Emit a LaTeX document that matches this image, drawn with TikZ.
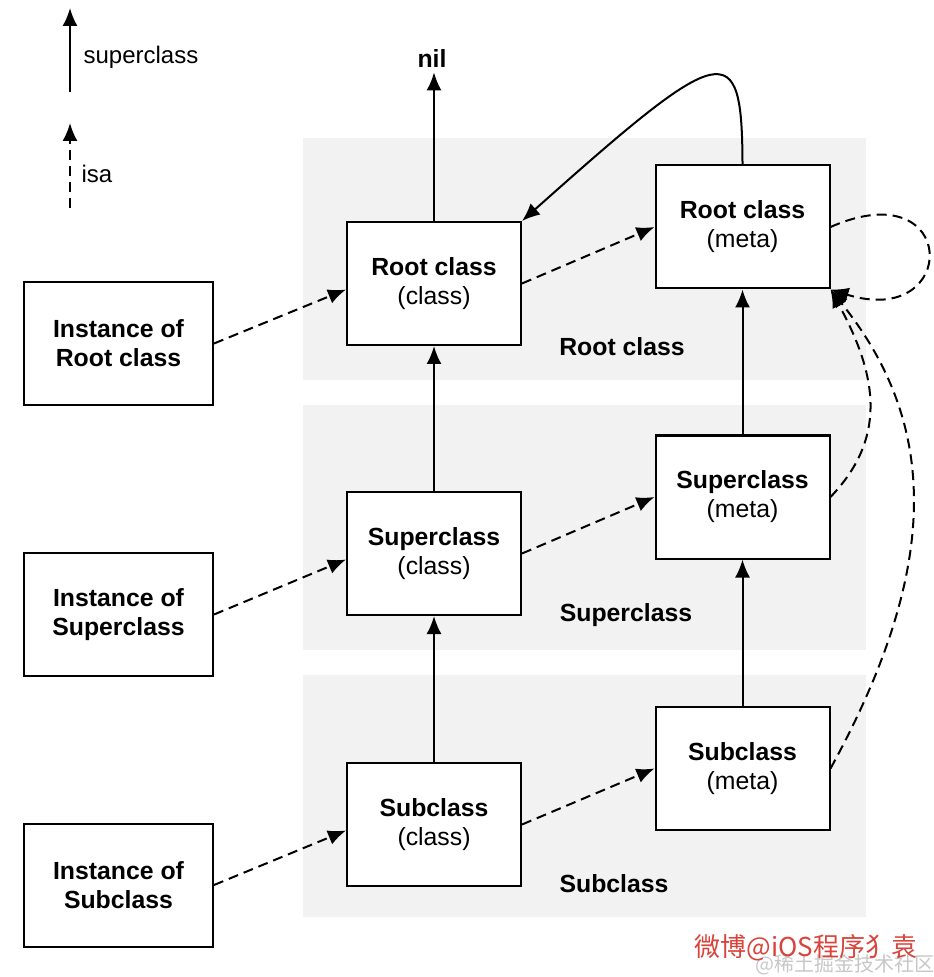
\documentclass[tikz,border=0pt]{standalone}
\usepackage{fontspec}
\setmainfont{Liberation Sans}
\newfontfamily\cjkfont{Noto Sans CJK SC}
\usepackage{xcolor}
\usetikzlibrary{arrows.meta}
\definecolor{panelgray}{RGB}{242,242,242}
\definecolor{wmred}{RGB}{217,67,58}

\begin{document}
\begin{tikzpicture}[x=0.5pt, y=-0.5pt,
        classbox/.style={draw, line width=1pt, fill=white, minimum width=87pt, minimum height=61.5pt,
            align=center, font=\fontsize{12.4}{14.5}\selectfont},
        instbox/.style={classbox, minimum width=94.5pt},
        super/.style={-{Latex[length=9pt, width=7.5pt]}, line width=1pt},
        isa/.style={super, dash pattern=on 5pt off 3pt},
        tag/.style={font=\fontsize{12.4}{14.5}\selectfont\bfseries},
        legend/.style={font=\fontsize{12}{14}\selectfont}]
        \useasboundingbox (0,0) rectangle (933,977);

        % Draw the gray panels
        \fill[panelgray] (303,138) rectangle (866,380);
        \fill[panelgray] (303,405) rectangle (866,650);
        \fill[panelgray] (303,675) rectangle (866,917);

        % Label the panels
        \node[tag] (roottag) at (622,347) {Root class};
        \node[tag] (supertag) at (626,615) {Superclass};
        \node[tag] (subtag) at (614,884) {Subclass};

        % Define the legend points
        \coordinate (sup0) at (70,92);
        \coordinate (sup1) at (70,8);
        \coordinate (isa0) at (70,208);
        \coordinate (isa1) at (70,123);

        % Draw the legend
        \draw[super] (sup0) -- (sup1);
        \draw[isa] (isa0) -- (isa1);
        \node[legend] (suplabel) at (141,57) {superclass};
        \node[legend] (isalabel) at (97,174) {isa};

        % Place the instances
        \node[instbox] (irc) at (118.5,343.5) {\textbf{Instance of}\\\textbf{Root class}};
        \node[instbox] (isc) at (118.5,614.5) {\textbf{Instance of}\\\textbf{Superclass}};
        \node[instbox] (isub) at (118.5,885) {\textbf{Instance of}\\\textbf{Subclass}};

        % Place the classes
        \node[classbox] (rcc) at (434,283.5) {\textbf{Root class}\\(class)};
        \node[classbox] (scc) at (434,553.5) {\textbf{Superclass}\\(class)};
        \node[classbox] (subc) at (434,824.5) {\textbf{Subclass}\\(class)};

        % Place the metaclasses
        \node[classbox] (rcm) at (742.5,227) {\textbf{Root class}\\(meta)};
        \node[classbox] (scm) at (742.5,497) {\textbf{Superclass}\\(meta)};
        \node[classbox] (subm) at (742.5,768.5) {\textbf{Subclass}\\(meta)};

        \node[tag, inner sep=2pt] (nil) at (432,59) {nil};

        % Draw the superclass arrows
        \draw[super] (rcc.north) -- (rcc.north |- nil.south);
        \draw[super] (scc.north) -- (rcc.south);
        \draw[super] (subc.north) -- (scc.south);
        \draw[super] (scm.north) -- (rcm.south);
        \draw[super] (subm.north) -- (scm.south);
        \draw[super] (rcm.north) .. controls (742,35) and (725,40) .. (rcc.north east);

        % Draw the isa arrows
        \draw[isa] (irc.east) -- ([yshift=-3pt]rcc.west);
        \draw[isa] (isc.east) -- ([yshift=-3pt]scc.west);
        \draw[isa] (isub.east) -- ([yshift=-3pt]subc.west);
        \draw[isa] (rcc.east) -- (rcm.west);
        \draw[isa] (scc.east) -- (scm.west);
        \draw[isa] (subc.east) -- (subm.west);
        \draw[isa] (rcm.east) .. controls (960,170) and (960,330) .. (rcm.south east);
        \draw[isa] (scm.east) .. controls (885,440) and (880,380) .. (rcm.south east);
        \draw[isa] (subm.east) .. controls (945,560) and (935,420) .. (rcm.south east);

        % Watermark
        \node[text=black!22, font=\cjkfont\fontsize{10}{12}\selectfont] (wmsite) at (845,965) {@稀土掘金技术社区};
        \node[text=wmred, font=\cjkfont\fontsize{13}{15}\selectfont] (wmname) at (806,948) {微博@iOS程序犭袁};
    \end{tikzpicture}
\end{document}
